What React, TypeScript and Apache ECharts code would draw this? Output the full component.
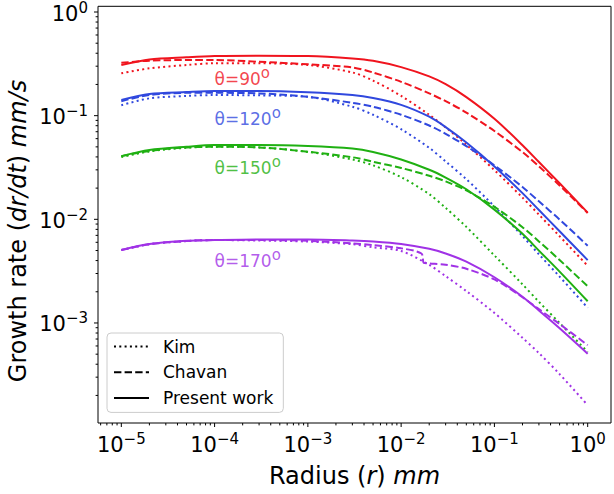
import React, { useEffect, useRef } from "react";
import * as echarts from "echarts";

// ---------- data ----------
const radius = [1e-5, 2e-5, 5e-5, 1e-4, 3e-4, 1e-3, 3e-3, 5e-3, 1e-2, 2e-2, 3e-2, 5e-2, 0.1, 0.2, 0.3, 0.5, 1];

const present90 = [0.308, 0.349, 0.366, 0.376, 0.379, 0.376, 0.356, 0.338, 0.294, 0.239, 0.201, 0.151, 0.0933, 0.0519, 0.0357, 0.0223, 0.0116];
const chavan90 = [0.324, 0.339, 0.344, 0.344, 0.331, 0.313, 0.292, 0.261, 0.212, 0.164, 0.138, 0.107, 0.0711, 0.0445, 0.0324, 0.0212, 0.0115];
const kim90 = [0.256, 0.286, 0.308, 0.32, 0.32, 0.308, 0.261, 0.218, 0.155, 0.102, 0.0771, 0.0525, 0.0298, 0.0162, 0.0111, 0.00687, 0.00356];

const present120 = [0.142, 0.162, 0.169, 0.173, 0.173, 0.168, 0.158, 0.148, 0.127, 0.0977, 0.0776, 0.055, 0.0324, 0.0179, 0.0123, 0.00767, 0.00404];
const chavan120 = [0.138, 0.158, 0.166, 0.166, 0.164, 0.152, 0.133, 0.122, 0.102, 0.0804, 0.0667, 0.0509, 0.0332, 0.0205, 0.0149, 0.00995, 0.00556];
const kim120 = [0.126, 0.147, 0.155, 0.158, 0.157, 0.152, 0.122, 0.102, 0.074, 0.0489, 0.0362, 0.0244, 0.0133, 0.00689, 0.0046, 0.0028, 0.0014];

const present150 = [0.0407, 0.0466, 0.0501, 0.052, 0.052, 0.0509, 0.0482, 0.0447, 0.0378, 0.0301, 0.0253, 0.0195, 0.0124, 0.00724, 0.00499, 0.00313, 0.00162];
const chavan150 = [0.0407, 0.0457, 0.0494, 0.0501, 0.0494, 0.0449, 0.0397, 0.0359, 0.0313, 0.0263, 0.0232, 0.019, 0.0132, 0.00839, 0.00612, 0.00405, 0.00226];
const kim150 = [0.0398, 0.0452, 0.049, 0.0501, 0.0494, 0.0447, 0.0378, 0.0332, 0.0255, 0.0175, 0.0129, 0.00845, 0.00448, 0.00236, 0.0016, 0.001, 0.000526];

const present170 = [0.00505, 0.00577, 0.00621, 0.00631, 0.0064, 0.0064, 0.00625, 0.00612, 0.00579, 0.00519, 0.00468, 0.0039, 0.00276, 0.00179, 0.00132, 0.000891, 0.000506];
const chavan170 = [0.00505, 0.00575, 0.00617, 0.00631, 0.00631, 0.00621, 0.00585, 0.00564, 0.00525, 0.00376, 0.00365, 0.00333, 0.00263, 0.00177, 0.00136, 0.000977, 0.000611];
const kim170 = [0.00505, 0.00575, 0.00617, 0.00631, 0.00624, 0.0061, 0.00575, 0.00537, 0.00495, 0.00363, 0.00283, 0.00203, 0.00125, 0.000719, 0.000512, 0.000321, 0.000161];

// the small jump in the Chavan curve for 170 degrees
const chavan170StepRadius = [1.65e-2, 1.75e-2];
const chavan170StepValues = [0.00468, 0.0038];

const angles = ["90", "120", "150", "170"];
const angleColors = ["#f0141e", "#3048de", "#1fb012", "#a032e6"];
const labelX = 1e-4;
const labelY = [0.24, 0.099, 0.0333, 0.0042];

const legendNames = ["Kim", "Chavan", "Present work"];
const xTickExps = [-6, -5, -4, -3, -2, -1, 0];
const yTickExps = [-4, -3, -2, -1, 0];
const minorMults = [2, 3, 4, 5, 6, 7, 8, 9];

// ---------- layout / style ----------
const FONT = "DejaVu Sans";
const X_MIN = Math.pow(10, -5.25);
const X_MAX = Math.pow(10, 0.25);
const Y_MIN = Math.pow(10, -3.965);
const Y_MAX = Math.pow(10, 0.055);
const DOT = [2, 3.3];
const DASH = [7.4, 3.2];

function tickList(exps: number[], lo: number, hi: number) {
  const out: { v: number; len: number }[] = [];
  exps.forEach((e) => {
    const base = Math.pow(10, e);
    if (base >= lo && base <= hi) out.push({ v: base, len: 4 });
    minorMults.forEach((m) => {
      const v = m * base;
      if (v >= lo && v <= hi) out.push({ v, len: 2.4 });
    });
  });
  return out;
}

function supLabel(v: number) {
  const e = Math.log10(v);
  const r = Math.round(e);
  if (Math.abs(e - r) > 1e-3) return "";
  const exp = r < 0 ? "\u2212" + -r : String(r);
  return `{b|10}{s|${exp}}`;
}

const labelRich = {
  b: { fontSize: 21, fontFamily: FONT, color: "#000", lineHeight: 24, verticalAlign: "bottom" },
  s: { fontSize: 15, fontFamily: FONT, color: "#000", lineHeight: 14, verticalAlign: "top" },
};

function pairs(xs: number[], ys: number[]) {
  return xs.map((x, i) => [x, ys[i]]);
}

export default function App() {
  const ref = useRef<HTMLDivElement>(null);

  useEffect(() => {
    document.body.style.margin = "0";
    if (!ref.current) return;
    const chart = echarts.init(ref.current, undefined, { renderer: "svg" });

    const chavan170Data = pairs(radius, chavan170)
      .concat(pairs(chavan170StepRadius, chavan170StepValues))
      .sort((a, b) => a[0] - b[0]);

    const groups = [
      { kim: pairs(radius, kim90), chavan: pairs(radius, chavan90), present: pairs(radius, present90) },
      { kim: pairs(radius, kim120), chavan: pairs(radius, chavan120), present: pairs(radius, present120) },
      { kim: pairs(radius, kim150), chavan: pairs(radius, chavan150), present: pairs(radius, present150) },
      { kim: pairs(radius, kim170), chavan: chavan170Data, present: pairs(radius, present170) },
    ];

    const mkLine = (name: string, data: number[][], color: string, type: any) => ({
      type: "line",
      name,
      data,
      symbol: "none",
      showSymbol: false,
      smooth: 0.3,
      lineStyle: { color, width: 2, type },
      silent: true,
      z: 2,
    });

    const series: any[] = [];
    groups.forEach((g, i) => {
      const c = angleColors[i];
      series.push(mkLine("Kim " + angles[i], g.kim, c, DOT));
      series.push(mkLine("Chavan " + angles[i], g.chavan, c, DASH));
      series.push(mkLine("Present " + angles[i], g.present, c, "solid"));
    });

    // legend proxies
    const legendTypes: any[] = [DOT, DASH, "solid"];
    legendNames.forEach((n, i) => {
      series.push({
        type: "line",
        name: n,
        data: [],
        symbol: "none",
        lineStyle: { color: "#000", width: 2, type: legendTypes[i] },
        itemStyle: { color: "#000" },
      });
    });

    // angle labels
    series.push({
      type: "scatter",
      name: "angleLabels",
      symbolSize: 0,
      silent: true,
      data: labelY.map((y, i) => ({
        value: [labelX, y],
        label: {
          show: true,
          position: "right",
          distance: 0,
          formatter: `{t|\u03b8=${angles[i]}}{s|o}`,
          rich: {
            t: { fontSize: 17, fontFamily: FONT, color: angleColors[i], lineHeight: 22, verticalAlign: "bottom" },
            s: { fontSize: 15, fontFamily: FONT, color: angleColors[i], lineHeight: 13, verticalAlign: "top" },
          },
        },
      })),
      z: 4,
    });

    // ticks (major + minor), drawn through the axes
    const xt = tickList(xTickExps, X_MIN, X_MAX);
    const yt = tickList(yTickExps, Y_MIN, Y_MAX);
    series.push({
      type: "custom",
      name: "xticks",
      silent: true,
      clip: false,
      data: xt.map((t) => [t.v, Y_MIN, t.len]),
      renderItem: (_p: any, api: any) => {
        const p = api.coord([api.value(0), api.value(1)]);
        const len = api.value(2);
        return {
          type: "line",
          shape: { x1: p[0], y1: p[1], x2: p[0], y2: p[1] + len },
          style: { stroke: "#000", lineWidth: 1 },
        };
      },
      z: 5,
    });
    series.push({
      type: "custom",
      name: "yticks",
      silent: true,
      clip: false,
      data: yt.map((t) => [X_MIN, t.v, t.len]),
      renderItem: (_p: any, api: any) => {
        const p = api.coord([api.value(0), api.value(1)]);
        const len = api.value(2);
        return {
          type: "line",
          shape: { x1: p[0] - len, y1: p[1], x2: p[0], y2: p[1] },
          style: { stroke: "#000", lineWidth: 1 },
        };
      },
      z: 5,
    });

    chart.setOption({
      animation: false,
      backgroundColor: "#fff",
      grid: {
        left: 98,
        right: 3,
        top: 6,
        bottom: 71,
        show: true,
        borderColor: "#000",
        borderWidth: 1,
        backgroundColor: "transparent",
      },
      xAxis: {
        type: "log",
        logBase: 10,
        min: X_MIN,
        max: X_MAX,
        axisLine: { show: false },
        axisTick: { show: false },
        minorTick: { show: false },
        splitLine: { show: false },
        axisLabel: { formatter: supLabel, rich: labelRich, margin: 8, color: "#000" },
      },
      yAxis: {
        type: "log",
        logBase: 10,
        min: Y_MIN,
        max: Y_MAX,
        axisLine: { show: false },
        axisTick: { show: false },
        minorTick: { show: false },
        splitLine: { show: false },
        axisLabel: { formatter: supLabel, rich: labelRich, margin: 10, color: "#000" },
      },
      legend: {
        data: legendNames,
        orient: "vertical",
        left: 107,
        top: 333,
        itemWidth: 35,
        itemHeight: 14,
        itemGap: 6.7,
        padding: [4, 10, 5, 6],
        backgroundColor: "rgba(255,255,255,0.8)",
        borderColor: "#cccccc",
        borderWidth: 1,
        borderRadius: 4,
        selectedMode: false,
        itemStyle: { opacity: 0 },
        textStyle: { fontSize: 17, fontFamily: FONT, color: "#000", lineHeight: 19, padding: [0, 0, 0, 9] },
      },
      graphic: [
        {
          type: "text",
          x: 354.5,
          y: 476,
          style: {
            text: "{n|Radius (}{i|r}{n|) }{i|mm}",
            align: "center",
            verticalAlign: "middle",
            rich: {
              n: { fontSize: 24, fontFamily: FONT, fill: "#000" },
              i: { fontSize: 24, fontFamily: FONT, fill: "#000", fontStyle: "italic" },
            },
          },
        },
        {
          type: "text",
          x: 18,
          y: 231,
          rotation: Math.PI / 2,
          style: {
            text: "{n|Growth rate (}{i|dr/dt}{n|) }{i|mm/s}",
            align: "center",
            verticalAlign: "middle",
            rich: {
              n: { fontSize: 24, fontFamily: FONT, fill: "#000" },
              i: { fontSize: 24, fontFamily: FONT, fill: "#000", fontStyle: "italic" },
            },
          },
        },
      ],
      series,
    });

    return () => {
      chart.dispose();
    };
  }, []);

  return <div ref={ref} style={{ width: 614, height: 494 }} />;
}
